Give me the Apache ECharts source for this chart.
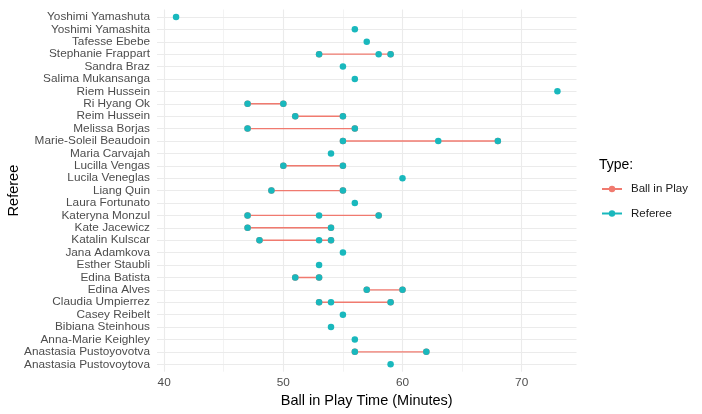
<!DOCTYPE html>
<html>
<head>
<meta charset="utf-8">
<script src="https://cdn.jsdelivr.net/npm/echarts@6/dist/echarts.min.js"></script>
<style>
  html, body { margin: 0; padding: 0; background: #fff; }
  #chart { width: 702px; height: 414px; }
</style>
</head>
<body>
<div id="chart"></div>
<script>
// referees, bottom of the chart to top (same order as the ggplot factor)
var referees = [
  'Anastasia Pustovoytova', 'Anastasia Pustoyovotva', 'Anna-Marie Keighley', 'Bibiana Steinhous',
  'Casey Reibelt', 'Claudia Umpierrez', 'Edina Alves', 'Edina Batista', 'Esther Staubli',
  'Jana Adamkova', 'Katalin Kulscar', 'Kate Jacewicz', 'Kateryna Monzul', 'Laura Fortunato',
  'Liang Quin', 'Lucila Veneglas', 'Lucilla Vengas', 'Maria Carvajah', 'Marie-Soleil Beaudoin',
  'Melissa Borjas', 'Reim Hussein', 'Ri Hyang Ok', 'Riem Hussein', 'Salima Mukansanga',
  'Sandra Braz', 'Stephanie Frappart', 'Tafesse Ebebe', 'Yoshimi Yamashita', 'Yoshimi Yamashuta'
];
// ball in play minutes for each game of the referee (same order as referees)
var playMinutes = [
  [59], [56, 62], [56], [54],
  [55], [53, 54, 59], [57, 60], [51, 53], [53],
  [55], [48, 53, 54], [47, 54], [47, 53, 58], [56],
  [49, 55], [60], [50, 55], [54], [55, 63, 68],
  [47, 56], [51, 55], [47, 50], [73], [56],
  [55], [53, 58, 59], [57], [56], [41]
];
var xTicks = [40, 50, 60, 70];
var xMinorTicks = [45, 55, 65];

var RED = '#F07A6F', TEAL = '#19B8BD', GRID = '#EBEBEB';
var FONT = 'Liberation Sans';

var chart = echarts.init(document.getElementById('chart'));

// one red segment per referee (min to max), all under the name 'Ball in Play'
var series = [];
var refPoints = [];
playMinutes.forEach(function (vals, i) {
  vals.forEach(function (v) { refPoints.push([v, i]); });
  if (vals.length > 1) {
    series.push({
      name: 'Ball in Play',
      type: 'line',
      data: [[Math.min.apply(null, vals), i], [Math.max.apply(null, vals), i]],
      symbol: 'circle',
      symbolSize: 6.5,
      itemStyle: { color: RED },
      lineStyle: { color: RED, width: 1.4 },
      z: 2,
      silent: true
    });
  }
});
// teal points, the connecting line is hidden (only shown in the legend key)
series.push({
  name: 'Referee',
  type: 'line',
  data: refPoints,
  symbol: 'circle',
  symbolSize: 6.5,
  itemStyle: { color: TEAL },
  lineStyle: { color: TEAL, width: 1.4, opacity: 0 },
  z: 3,
  silent: true
});

var idx = referees.map(function (r, i) { return i; });

var option = {
  animation: false,
  textStyle: { fontFamily: FONT },
  title: {
    text: 'Type:',
    left: 594, top: 153,
    textStyle: { fontFamily: FONT, fontSize: 14, fontWeight: 'normal', color: '#000' }
  },
  legend: {
    orient: 'vertical',
    left: 596, top: 178,
    itemWidth: 20, itemHeight: 8, itemGap: 12.5,
    selectedMode: false,
    textStyle: { fontFamily: FONT, fontSize: 11.5, color: '#1a1a1a', padding: [0, 0, 0, 4] },
    data: [
      { name: 'Ball in Play' },
      { name: 'Referee', lineStyle: { opacity: 1 } }
    ]
  },
  grid: { left: 157, right: 125.5, top: 9.5, bottom: 42.3, outerBoundsMode: 'none' },
  xAxis: [{
    type: 'value',
    min: 39.4, max: 74.6,
    name: 'Ball in Play Time (Minutes)',
    nameLocation: 'middle',
    nameGap: 22,
    nameMoveOverlap: false,
    nameTextStyle: { fontFamily: FONT, fontSize: 14.5, color: '#000' },
    axisLine: { show: false },
    axisTick: { show: false, customValues: xTicks },
    axisLabel: { customValues: xTicks, margin: 5, fontFamily: FONT, fontSize: 11.8, color: '#4D4D4D' },
    splitLine: { show: true, lineStyle: { color: GRID, width: 1.1 } }
  }, {
    type: 'value',
    min: 39.4, max: 74.6,
    position: 'top',
    axisLine: { show: false },
    axisTick: { show: false, customValues: xMinorTicks },
    axisLabel: { show: false, customValues: xMinorTicks },
    splitLine: { show: true, lineStyle: { color: GRID, width: 0.6 } }
  }],
  yAxis: {
    type: 'value',
    min: -0.6, max: referees.length - 1 + 0.6,
    name: 'Referee',
    nameLocation: 'middle',
    nameGap: 135.5,
    nameMoveOverlap: false,
    nameTextStyle: { fontFamily: FONT, fontSize: 14.5, color: '#000' },
    axisLine: { show: false },
    axisTick: { show: false, customValues: idx },
    axisLabel: {
      customValues: idx, margin: 7,
      fontFamily: FONT, fontSize: 11.8, color: '#4D4D4D',
      formatter: function (v) { return referees[Math.round(v)]; }
    },
    splitLine: { show: true, lineStyle: { color: GRID, width: 1.1 } }
  },
  series: series
};

chart.setOption(option);
</script>
</body>
</html>
